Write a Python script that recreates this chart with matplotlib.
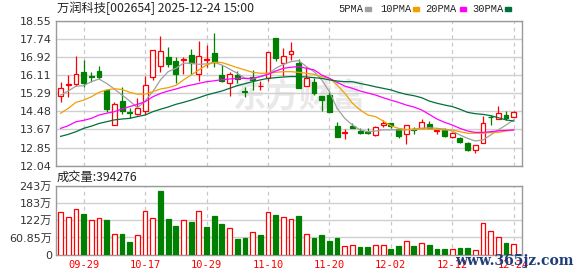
import matplotlib.pyplot as plt
from matplotlib.patches import Rectangle
import numpy as np

plt.rcParams['font.family'] = ['DejaVu Sans', 'Noto Sans CJK SC']

# 60 trading days shown on the chart
dates = ['09-24', '09-25', '09-26', '09-29', '09-30', '10-09', '10-10', '10-13', '10-14', '10-15',
         '10-16', '10-17', '10-20', '10-21', '10-22', '10-23', '10-24', '10-27', '10-28', '10-29',
         '10-30', '10-31', '11-03', '11-04', '11-05', '11-06', '11-07', '11-10', '11-11', '11-12',
         '11-13', '11-14', '11-17', '11-18', '11-19', '11-20', '11-21', '11-24', '11-25', '11-26',
         '11-27', '11-28', '12-01', '12-02', '12-03', '12-04', '12-05', '12-08', '12-09', '12-10',
         '12-11', '12-12', '12-15', '12-16', '12-17', '12-18', '12-19', '12-22', '12-23', '12-24']

opens = [15.18, 15.65, 15.73, 16.27, 16.09, 16.32, 15.46, 13.86, 14.95, 14.45,
         14.35, 14.52, 16.01, 16.53, 16.92, 16.75, 16.80, 17.02, 16.15, 16.80,
         17.10, 16.12, 15.75, 16.12, 15.40, 16.03, 15.61, 15.97, 17.77, 16.64,
         17.07, 16.67, 15.62, 15.79, 15.17, 15.22, 13.82, 13.50, 13.82, 13.61,
         13.55, 13.42, 13.85, 13.96, 13.67, 13.48, 13.70, 13.72, 13.90, 13.62,
         13.63, 13.35, 13.28, 13.06, 12.76, 13.07, 14.24, 14.13, 14.32, 14.22]
highs = [15.80, 16.10, 16.96, 16.80, 16.27, 16.52, 15.46, 14.89, 15.56, 14.62,
         15.07, 16.08, 17.25, 17.88, 17.38, 16.95, 16.95, 17.28, 17.67, 17.47,
         18.02, 16.57, 16.24, 16.30, 15.60, 16.35, 15.87, 17.14, 17.77, 17.32,
         17.62, 16.82, 16.50, 15.97, 15.17, 15.40, 13.99, 13.67, 13.97, 13.72,
         13.75, 13.82, 14.10, 13.96, 13.72, 13.87, 13.79, 14.14, 14.05, 13.63,
         13.72, 13.54, 13.33, 13.12, 12.96, 14.29, 14.32, 14.74, 14.49, 14.50]
lows = [14.89, 15.15, 15.64, 15.60, 15.82, 15.94, 14.47, 13.86, 14.37, 14.20,
        14.32, 14.32, 15.90, 16.27, 16.50, 15.75, 16.15, 16.15, 15.87, 16.50,
        16.50, 15.82, 15.17, 15.75, 15.15, 15.44, 15.44, 15.87, 16.76, 16.09,
        16.80, 15.55, 15.62, 15.22, 14.50, 14.47, 13.35, 13.24, 13.75, 13.48,
        13.48, 13.37, 13.80, 13.75, 13.30, 13.00, 13.48, 13.72, 13.72, 13.48,
        13.35, 13.30, 13.07, 12.70, 12.61, 13.07, 13.87, 14.13, 14.10, 14.22]
closes = [15.55, 15.70, 16.15, 15.77, 16.02, 16.05, 14.60, 14.80, 14.52, 14.41,
          14.62, 15.66, 17.25, 17.19, 16.62, 16.17, 16.86, 16.68, 16.96, 16.86,
          16.72, 15.87, 16.17, 15.92, 15.37, 15.90, 15.64, 17.14, 16.90, 16.99,
          17.20, 15.55, 15.97, 15.30, 14.99, 14.47, 13.35, 13.55, 13.75, 13.51,
          13.49, 13.76, 13.96, 13.81, 13.39, 13.87, 13.66, 13.99, 13.72, 13.63,
          13.39, 13.51, 13.10, 12.76, 12.96, 13.94, 14.22, 14.40, 14.17, 14.44]
prev_close = 15.20

# volume in 万 shares
volume = [152.6, 132.7, 163.0, 144.0, 124.0, 131.5, 122.0, 71.6, 72.8, 45.8,
          68.0, 156.0, 131.5, 224.0, 125.6, 101.0, 124.4, 115.0, 156.0, 97.4,
          136.0, 108.0, 96.0, 55.0, 58.7, 78.7, 69.0, 152.6, 139.7, 135.0,
          128.0, 136.0, 72.8, 58.7, 69.0, 49.3, 58.7, 29.3, 32.9, 27.0,
          27.0, 32.9, 32.9, 20.0, 30.5, 48.0, 30.5, 40.0, 34.0, 20.0,
          20.0, 20.0, 23.5, 23.5, 16.4, 111.5, 83.0, 62.0, 41.0, 39.4]

ma5 = [15.22, 15.40, 15.62, 15.64, 15.82, 15.94, 15.74, 15.49, 15.22, 14.95,
       14.65, 14.95, 15.37, 15.90, 16.27, 16.42, 16.65, 16.65, 16.60, 16.62,
       16.69, 16.57, 16.39, 16.20, 15.97, 15.94, 16.05, 16.15, 16.42, 16.60,
       16.72, 16.77, 16.50, 16.27, 15.90, 15.37, 14.62, 14.17, 13.87, 13.65,
       13.57, 13.60, 13.65, 13.65, 13.65, 13.65, 13.69, 13.72, 13.75, 13.72,
       13.69, 13.60, 13.42, 13.27, 13.15, 13.20, 13.42, 13.65, 13.87, 14.10]
ma10 = [14.40, 14.62, 14.89, 14.99, 15.14, 15.34, 15.45, 15.50, 15.47, 15.34,
        15.26, 15.26, 15.37, 15.49, 15.55, 15.65, 15.90, 16.12, 16.35, 16.57,
        16.69, 16.68, 16.57, 16.45, 16.35, 16.24, 16.20, 16.20, 16.24, 16.27,
        16.27, 16.24, 16.20, 16.15, 16.05, 15.97, 15.67, 15.30, 14.85, 14.55,
        14.32, 14.25, 14.05, 13.84, 13.72, 13.67, 13.66, 13.69, 13.69, 13.67,
        13.65, 13.65, 13.57, 13.50, 13.50, 13.50, 13.53, 13.54, 13.60, 13.65]
ma20 = [13.72, 13.84, 14.02, 14.08, 14.17, 14.32, 14.40, 14.47, 14.59, 14.70,
        14.80, 14.92, 15.14, 15.29, 15.40, 15.49, 15.59, 15.67, 15.74, 15.82,
        15.86, 15.91, 15.94, 15.97, 15.97, 15.97, 16.05, 16.15, 16.30, 16.42,
        16.47, 16.50, 16.42, 16.35, 16.12, 15.97, 15.79, 15.62, 15.52, 15.40,
        15.31, 15.22, 15.10, 14.99, 14.89, 14.77, 14.68, 14.55, 14.35, 14.14,
        13.99, 13.87, 13.72, 13.60, 13.54, 13.54, 13.57, 13.61, 13.63, 13.65]
ma30 = [13.36, 13.45, 13.57, 13.72, 13.82, 13.94, 14.02, 14.10, 14.14, 14.17,
        14.25, 14.32, 14.47, 14.58, 14.68, 14.80, 14.89, 14.99, 15.10, 15.22,
        15.31, 15.40, 15.52, 15.64, 15.73, 15.82, 15.90, 15.97, 16.00, 16.03,
        16.05, 16.05, 16.03, 16.00, 15.97, 15.90, 15.85, 15.82, 15.82, 15.74,
        15.67, 15.59, 15.52, 15.45, 15.34, 15.25, 15.19, 15.10, 14.95, 14.85,
        14.77, 14.70, 14.58, 14.44, 14.38, 14.35, 14.29, 14.20, 14.10, 14.05]

price_ticks = [12.04, 12.85, 13.67, 14.48, 15.29, 16.11, 16.92, 17.74, 18.55]
price_labels = ['12.04', '12.85', '13.67', '14.48', '15.29', '16.11', '16.92', '17.74', '18.55']
vol_ticks = [0, 60.85, 122, 183, 243]
vol_labels = ['0', '60.85万', '122万', '183万', '243万']
ma_names = ['5PMA', '10PMA', '20PMA', '30PMA']

RED = '#ff0000'
GREEN = '#008000'
ma_colors = ['#a0a0a0', '#f2a000', '#ff00ff', '#00703a']
BORDER = '#9a9a9a'

W, H = 578, 276
fig = plt.figure(figsize=(W / 100, H / 100), dpi=100)


def box(l, t, r, b):
    return [l / W, 1 - b / H, (r - l) / W, (b - t) / H]


def px(x, y):
    return x / W, 1 - y / H


axp = fig.add_axes(box(56, 21, 522, 165.7))
axv = fig.add_axes(box(56, 186, 522, 254.7))

x = np.arange(len(dates))
o = np.array(opens)
c = np.array(closes)
up = c >= o
col = np.where(up, RED, GREEN)
face = np.where(up, 'white', GREEN)
body_lo = np.minimum(o, c)
body_h = np.maximum(np.abs(c - o), 0.012)

# candles
axp.vlines(x, lows, highs, colors=col, lw=0.9, zorder=2)
axp.bar(x, body_h, 0.64, bottom=body_lo, color=face, edgecolor=col, lw=0.9, zorder=3)

for vals, cl in zip([ma5, ma10, ma20, ma30], ma_colors):
    axp.plot(x, vals, color=cl, lw=0.9, zorder=4)

# volume, coloured by close vs previous close
pc = np.concatenate([[prev_close], c[:-1]])
vup = c >= pc
axv.bar(x, volume, 0.62, color=np.where(vup, 'white', GREEN),
        edgecolor=np.where(vup, RED, GREEN), lw=0.9, zorder=3)

tick_idx = x[3::8]
for ax in (axp, axv):
    ax.set_xlim(-0.6, 60.08)
    ax.set_xticks(tick_idx)
    ax.grid(axis='y', color='#d0d0d0', lw=1, zorder=0)
    ax.grid(axis='x', color='#c8c8c8', lw=0.9, linestyle=(0, (3, 3)), zorder=0)
    ax.set_axisbelow(True)
    ax.tick_params(length=0, labelsize=8, labelcolor='#333333', pad=3)
    for s in ax.spines.values():
        s.set_color(BORDER)
        s.set_linewidth(1)

axp.set_ylim(12.04, 18.55)
axp.set_yticks(price_ticks)
axp.set_yticklabels(price_labels)
axp.set_xticklabels([])

axv.set_ylim(0, 243)
axv.set_yticks(vol_ticks)
axv.set_yticklabels(vol_labels)
axv.set_xticklabels([dates[i] for i in tick_idx], color=RED, family='DejaVu Sans Mono', fontsize=7.5)
axv.tick_params(axis='x', pad=4)

# watermark
axp.text(0.52, 0.47, '东方财富', transform=axp.transAxes, ha='center', va='center',
         fontsize=24, fontweight='bold', color='#e9e9e9', family='Noto Sans CJK SC', zorder=0.5)

# header
fig.text(*px(57, 8.5), '万润科技[002654] 2025-12-24 15:00', ha='left', va='center',
         fontsize=8.8, color='#222222', family=['Noto Sans CJK SC', 'DejaVu Sans'])
leg_x = [338, 380, 425, 472]
sq_x = [365, 413, 460, 505]
for name, cl, lx, sx in zip(ma_names, ma_colors, leg_x, sq_x):
    fig.text(*px(lx, 9), name, ha='left', va='center', fontsize=7.5,
             color='#222222', family='Liberation Mono')
    fig.patches.append(Rectangle(px(sx, 10.5), 6 / W, 3 / H, color=cl,
                                 transform=fig.transFigure, figure=fig))

fig.text(*px(57, 177.5), '成交量:394276', ha='left', va='center', fontsize=8.8,
         color='#222222', family=['Noto Sans CJK SC', 'DejaVu Sans'])

fig.text(*px(455, 261), 'www.365jz.com', ha='left', va='center', fontsize=10,
         fontweight='bold', color='#1f3d7a', family='DejaVu Serif')

fig.savefig('out.png', dpi=100)
